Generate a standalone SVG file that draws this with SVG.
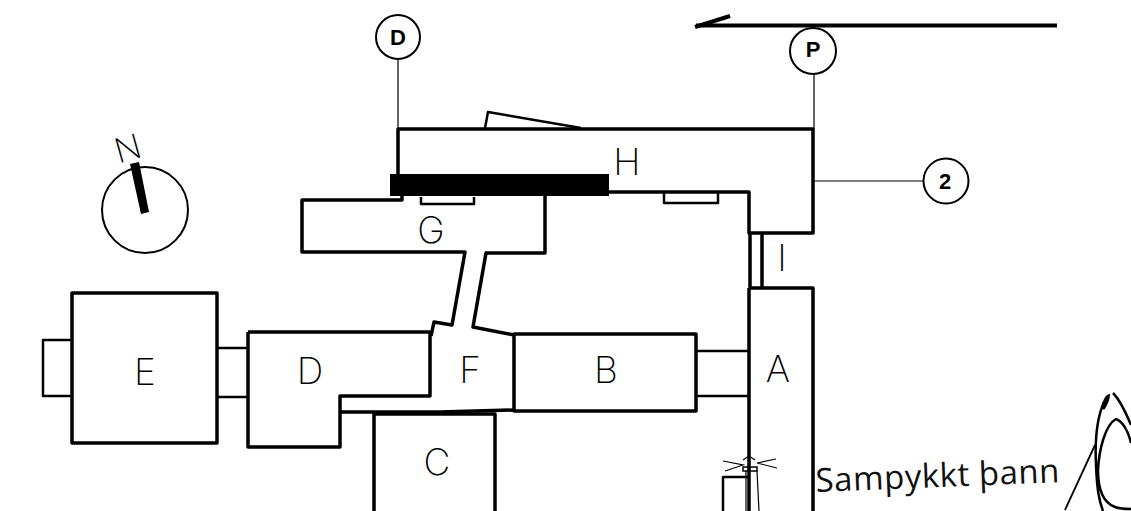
<svg xmlns="http://www.w3.org/2000/svg" width="1131" height="511" viewBox="0 0 1131 511">
<style>
.w{fill:none;stroke:#000;stroke-width:3.5;stroke-linejoin:round}
.m{fill:none;stroke:#000;stroke-width:2.5;stroke-linejoin:round}
.t{fill:none;stroke:#000;stroke-width:1.2}
.l{font-family:"Inter","Liberation Sans",Arial,sans-serif;font-size:37px;fill:#000;text-anchor:middle;font-weight:200;opacity:.99}
.c{font-family:"Liberation Sans",Arial,sans-serif;font-size:22px;font-weight:700;fill:#000;text-anchor:middle}
</style>
<rect width="1131" height="511" fill="#fff"/>
<g id="plan">
<g id="building-H">
<path class="w" d="M398 196V129H813V233H749V192H609"/>
<path class="m" d="M485 128L488 112L581 128"/>
<rect x="390" y="174" width="219" height="22" fill="#000"/>
<path class="m" d="M664 193V203H718V193"/>
<text class="l" x="627" y="174.500">H</text>
</g>
<g id="building-G">
<path class="w" d="M402 196V200H302V252H465L452 325L434 322L431 336M545 196V253H486L473 327L514 335"/>
<path class="m" d="M421 197V204H474V197"/>
<text class="l" x="431" y="243">G</text>
</g>
<g id="building-I">
<path class="w" d="M762 233V288M750 233V288"/>
<text class="l" x="782" y="271">I</text>
</g>
<g id="building-A">
<path class="w" d="M749 288H813V511M749 288V511"/>
<text class="l" x="778" y="382">A</text>
</g>
<g id="building-B">
<rect class="w" x="514" y="334" width="182" height="77"/>
<path class="m" d="M696 351H749M696 396H749"/>
<text class="l" x="606" y="383">B</text>
</g>
<g id="building-F">
<path class="w" d="M340 412H440L514 410"/>
<text class="l" x="470" y="383">F</text>
</g>
<g id="building-D">
<path class="w" d="M248 332H430V396H340V447H248V332"/>
<text class="l" x="310" y="384">D</text>
</g>
<g id="building-E">
<rect class="w" x="72" y="293" width="145" height="150"/>
<path class="m" d="M217 348H248M217 397H248"/>
<path class="m" d="M72 340H43V396H72"/>
<text class="l" x="145" y="385">E</text>
</g>
<g id="building-C">
<path class="w" d="M374 511V414H495V511"/>
<text class="l" x="437" y="475">C</text>
</g>
<g id="beacon">
<path class="m" d="M723 511V477H748"/>
<path class="t" d="M723 461L743 465L725 471M776 459L757 463L777 468M743 460L749 456L755 460"/>
<rect x="743" y="467" width="14" height="4" fill="none" stroke="#000" stroke-width="1.5"/>
<path class="t" d="M746 471V511M757 471L759 511"/>
</g>
</g>
<g id="north">
<circle cx="145" cy="210" r="43" fill="none" stroke="#000" stroke-width="2"/>
<path d="M130 164L139 162L149 212L141 214Z" fill="#000"/>
<text class="l" x="131" y="160" style="font-size:34px" transform="rotate(-15.500 131 160)">N</text>
</g>
<g id="connectors">
<path class="t" d="M398 58V129M814 74V129M814 181H923"/>
<path d="M696 25.500H1057" stroke="#000" stroke-width="4" fill="none"/>
<path d="M695 27L730 16" stroke="#000" stroke-width="4" fill="none"/>
</g>
<g id="marker-D">
<circle cx="398" cy="37" r="22" fill="#fff" stroke="#000" stroke-width="2"/>
<text class="c" x="398" y="45">D</text>
</g>
<g id="marker-P">
<circle cx="813" cy="51" r="23" fill="#fff" stroke="#000" stroke-width="2"/>
<text class="c" x="813" y="57">P</text>
</g>
<g id="marker-2">
<circle cx="946" cy="181" r="22.500" fill="#fff" stroke="#000" stroke-width="2"/>
<text class="c" x="945" y="189">2</text>
</g>
<g id="stamp">
<text x="816" y="492" font-family="'Open Sans','Noto Sans',sans-serif" font-size="33" textLength="244" fill="#111" transform="rotate(-2.300 816 492)">Sampykkt þann</text>
<path class="m" d="M1104 402C1096 420 1095 445 1096 465C1097 490 1099 500 1103 511M1113 393C1120 400 1126 413 1131 425M1131 443C1128 430 1122 421 1116 419C1105 425 1099 450 1098 470C1098 490 1104 503 1115 507C1120 509 1126 509 1131 509"/>
<path d="M1102 408C1102 400 1106 394 1110 394C1110 400 1107 406 1104 410Z" fill="#000"/>
<path d="M1065 510L1095 445" fill="none" stroke="#000" stroke-width="1.800"/>
</g>
</svg>
